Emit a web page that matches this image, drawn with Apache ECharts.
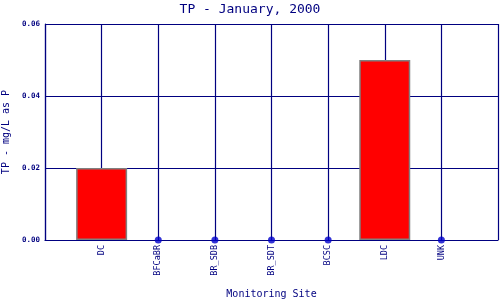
<!DOCTYPE html>
<html><head><meta charset="utf-8">
<script src="https://cdn.jsdelivr.net/npm/echarts@6/dist/echarts.min.js"></script>
<style>html,body{margin:0;padding:0;background:#fff}#c{width:500px;height:300px}</style>
</head><body><div id="c"></div>
<script>
const sites = ['DC', 'BFCaBR', 'BR_SDB', 'BR_SDT', 'BCSC', 'LDC', 'UNK'];
const tpValues = [0.02, 0, 0, 0, 0, 0.05, 0];
const yTicks = [0, 0.02, 0.04, 0.06];

const navy = '#000080';
const font = 'DejaVu Sans Mono';
const barData = [], dotData = [];
sites.forEach((s, i) => {
  if (tpValues[i] > 0) barData.push([i + 1, tpValues[i]]);
  else dotData.push([i + 1, tpValues[i]]);
});

const chart = echarts.init(document.getElementById('c'));
chart.setOption({
  animation: false,
  title: { text: 'TP - January, 2000', left: 'center', top: -2,
    textStyle: { fontFamily: font, fontSize: 13, fontWeight: 'normal', color: navy } },
  grid: { left: 45, right: 2, top: 24, bottom: 60, containLabel: false, outerBoundsMode: 'none' },
  xAxis: {
    type: 'value', min: 0, max: sites.length + 1, interval: 1,
    name: 'Monitoring Site', nameLocation: 'middle', nameGap: 49,
    nameTextStyle: { fontFamily: font, fontSize: 10, color: navy },
    axisLine: { show: true, lineStyle: { color: navy, width: 1.2 } },
    axisTick: { show: false },
    axisLabel: { rotate: 90, margin: 5, fontFamily: font, fontSize: 8.5, color: navy,
      formatter: v => (v >= 1 && v <= sites.length) ? sites[v - 1] : '' },
    splitLine: { show: true, lineStyle: { color: navy, width: 1.2 } }
  },
  yAxis: {
    type: 'value', min: yTicks[0], max: yTicks[yTicks.length - 1], interval: 0.02,
    name: 'TP - mg/L as P', nameLocation: 'middle', nameGap: 30, nameRotate: 90,
    nameTextStyle: { fontFamily: font, fontSize: 10, color: navy },
    axisLine: { show: true, lineStyle: { color: navy, width: 1.2 } },
    axisTick: { show: false },
    axisLabel: { margin: 5, fontFamily: font, fontSize: 7.5, fontWeight: 'bold', color: navy,
      formatter: v => v.toFixed(2) },
    splitLine: { show: true, lineStyle: { color: navy, width: 1.2 } }
  },
  series: [
    { type: 'bar', data: barData, barWidth: 51,
      itemStyle: { color: '#ff0000', borderColor: '#808080', borderWidth: 1.5 } },
    { type: 'scatter', data: dotData, symbol: 'circle', symbolSize: 7,
      itemStyle: { color: '#0000cc' }, z: 5 }
  ]
});
</script></body></html>
